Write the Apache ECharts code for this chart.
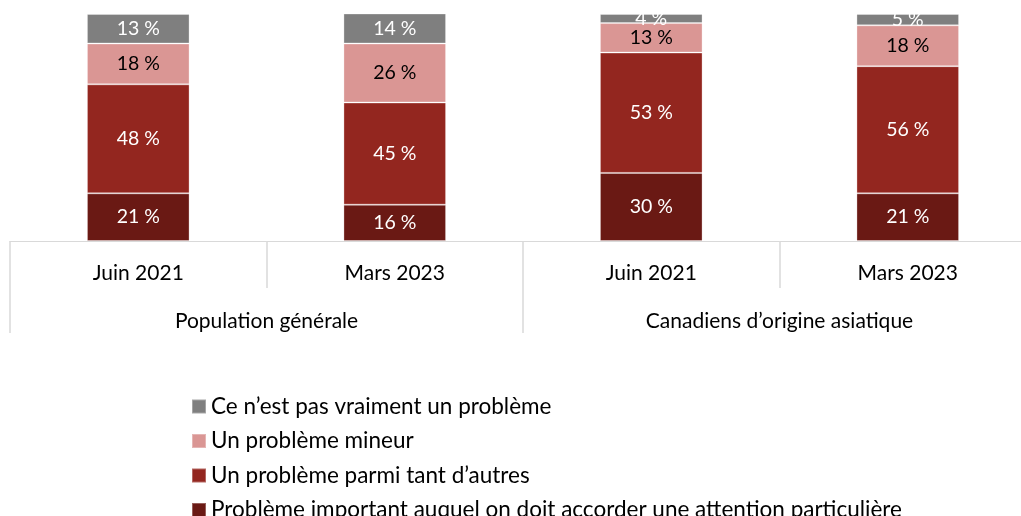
<!DOCTYPE html>
<html>
<head>
<meta charset="utf-8">
<script src="https://cdn.jsdelivr.net/npm/echarts@6/dist/echarts.min.js"></script>
<style>
html,body{margin:0;padding:0;background:#fff;overflow:hidden;}
#chart{width:1036px;height:516px;}
</style>
</head>
<body>
<div id="chart"></div>
<script>
const categories = ['Juin 2021', 'Mars 2023', 'Juin 2021', 'Mars 2023'];
const groups = ['Population générale', 'Canadiens d\u2019origine asiatique'];
const seriesNames = [
  'Problème important auquel on doit accorder une attention particulière',
  'Un problème parmi tant d\u2019autres',
  'Un problème mineur',
  'Ce n\u2019est pas vraiment un problème'
];
const important = [21, 16, 30, 21];
const parmi = [48, 45, 53, 56];
const mineur = [18, 26, 13, 18];
const pasProbleme = [13, 14, 4, 5];

const colors = ['#6a1914', '#93261f', '#da9694', '#7f7f7f'];
const labelColors = ['#ffffff', '#ffffff', '#000000', '#ffffff'];
const values = [important, parmi, mineur, pasProbleme];
const FONT = 'Lato';

const series = values.map((v, i) => ({
  name: seriesNames[i],
  type: 'bar',
  stack: 'total',
  barWidth: '40%',
  clip: true,
  data: v,
  itemStyle: { color: colors[i], borderColor: 'rgba(255,255,255,0.3)', borderWidth: 1 },
  label: {
    show: true, position: 'inside', formatter: '{c} %',
    color: labelColors[i], fontSize: 19.5, fontFamily: FONT
  },
  emphasis: { disabled: true }
}));

const chart = echarts.init(document.getElementById('chart'));
chart.setOption({
  animation: false,
  textStyle: { fontFamily: FONT },
  grid: { left: 10, top: 14, right: 0, height: 227, containLabel: false },
  xAxis: [
    {
      type: 'category', data: categories, position: 'bottom',
      axisLine: { show: true, lineStyle: { color: '#d9d9d9', width: 1 } },
      axisTick: { show: true, interval: 0, length: 47, lineStyle: { color: '#d9d9d9', width: 1.5 } },
      axisLabel: { interval: 0, margin: 22, fontSize: 21, color: '#000', fontFamily: FONT }
    },
    {
      type: 'category', data: groups, position: 'bottom',
      axisLine: { show: false },
      axisTick: { show: true, interval: 0, length: 92, lineStyle: { color: '#d9d9d9', width: 1.5 } },
      axisLabel: { interval: 0, margin: 70, fontSize: 21, color: '#000', fontFamily: FONT }
    }
  ],
  yAxis: { type: 'value', min: 0, max: 100, show: false },
  legend: {
    orient: 'vertical', left: 186, top: 390, height: 300,
    data: [seriesNames[3], seriesNames[2], seriesNames[1], seriesNames[0]],
    icon: 'rect', itemWidth: 14, itemHeight: 14, itemGap: 11.5,
    textStyle: { fontSize: 22.5, color: '#000', fontFamily: FONT, lineHeight: 22 },
    selectedMode: false
  },
  series: series
});
</script>
</body>
</html>
